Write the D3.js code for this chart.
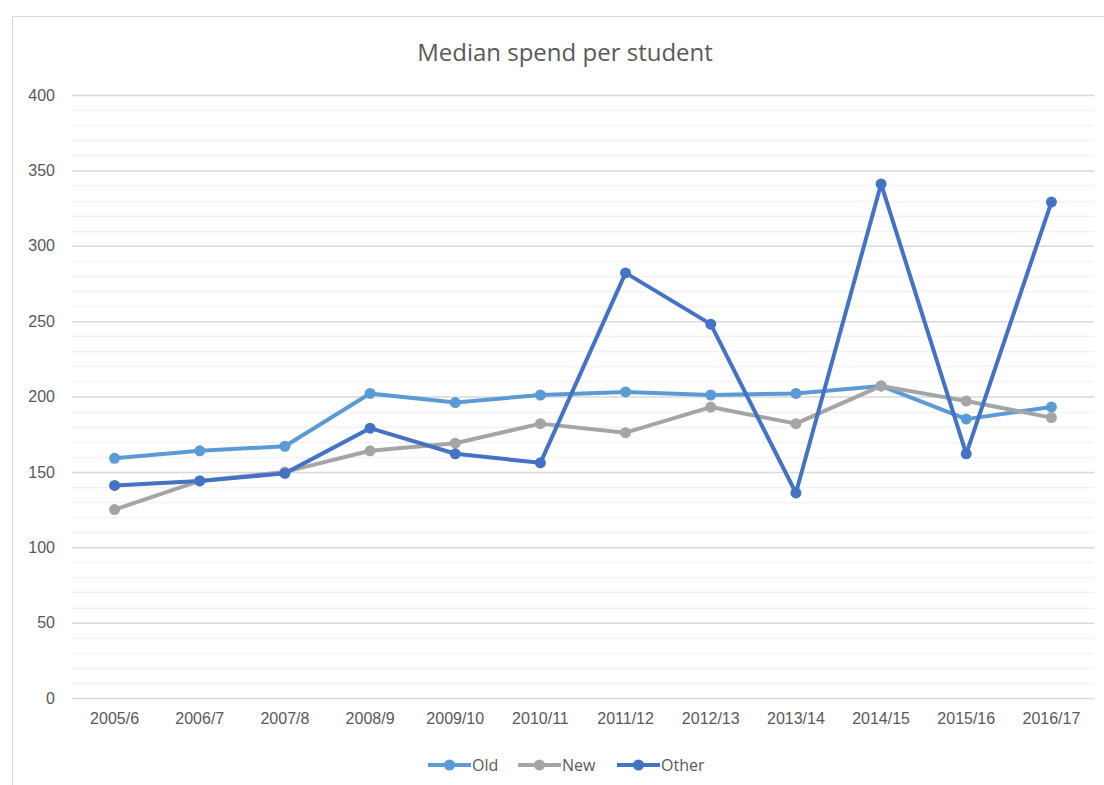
<!DOCTYPE html>
<html lang="en-gb">
<meta charset="utf-8">

<head>
    <style>
        body {
            margin: 0;
            background: #fff;
            font-family: "Open Sans", "Liberation Sans", sans-serif;
        }
    </style>
    <script src="https://d3js.org/d3.v7.min.js"></script>
</head>

<body>
</body>
<script>
    // data
    var years = ["2005/6", "2006/7", "2007/8", "2008/9", "2009/10", "2010/11",
        "2011/12", "2012/13", "2013/14", "2014/15", "2015/16", "2016/17"];
    var oldVals = [159, 164, 167, 202, 196, 201, 203, 201, 202, 207, 185, 193];
    var newVals = [125, 144, 150, 164, 169, 182, 176, 193, 182, 207, 197, 186];
    var otherVals = [141, 144, 149, 179, 162, 156, 282, 248, 136, 341, 162, 329];
    var seriesNames = ["Old", "New", "Other"];
    var seriesColors = ["#5b9bd5", "#a5a5a5", "#4472c4"];
    var yTicks = [0, 50, 100, 150, 200, 250, 300, 350, 400];

    var width = 1104, height = 785;
    var plot = { left: 72, right: 1094, top: 95, bottom: 698 };

    var svg = d3.select("body").append("svg")
        .attr("width", width)
        .attr("height", height);

    // chart frame
    svg.append("rect")
        .attr("x", 12.5).attr("y", 16.5)
        .attr("width", 1200).attr("height", 900)
        .attr("fill", "#fff")
        .attr("stroke", "#d9d9d9");

    var x = d3.scaleBand().domain(years).range([plot.left, plot.right]);
    var y = d3.scaleLinear().domain([0, 400]).range([plot.bottom, plot.top]);

    // minor gridlines
    svg.append("g").selectAll("line")
        .data(d3.range(0, 401, 10).filter(function (d) { return d % 50 != 0; }))
        .enter().append("line")
        .attr("x1", plot.left).attr("x2", plot.right)
        .attr("y1", function (d) { return Math.round(y(d)) + 0.5; })
        .attr("y2", function (d) { return Math.round(y(d)) + 0.5; })
        .attr("stroke", "#f2f2f2")
        .attr("stroke-width", 1.5);

    // major gridlines + y labels
    var yAxis = d3.axisLeft(y).tickValues(yTicks)
        .tickSize(-(plot.right - plot.left)).tickPadding(17);
    var gy = svg.append("g")
        .attr("transform", "translate(" + plot.left + ",0)")
        .call(yAxis);
    gy.select(".domain").remove();
    gy.selectAll("line").attr("stroke", "#d9d9d9").attr("stroke-width", 1.5);
    gy.selectAll("text")
        .attr("fill", "#595959")
        .style("font-size", "16px");

    // x labels
    var xAxis = d3.axisBottom(x).tickSize(0).tickPadding(15);
    var gx = svg.append("g")
        .attr("transform", "translate(0," + plot.bottom + ")")
        .call(xAxis);
    gx.select(".domain").remove();
    gx.selectAll("text")
        .attr("fill", "#595959")
        .style("font-size", "16px");

    // title
    svg.append("text")
        .attr("x", (plot.left + plot.right) / 2 - 18)
        .attr("y", 61)
        .attr("text-anchor", "middle")
        .attr("fill", "#595959")
        .style("font-size", "24px")
        .text("Median spend per student");

    var line = d3.line()
        .x(function (d, i) { return x(years[i]) + x.bandwidth() / 2; })
        .y(function (d) { return y(d); });

    var allSeries = [oldVals, newVals, otherVals];
    allSeries.forEach(function (vals, s) {
        var g = svg.append("g");
        g.append("path")
            .datum(vals)
            .attr("d", line)
            .attr("fill", "none")
            .attr("stroke", seriesColors[s])
            .attr("stroke-width", 4)
            .attr("stroke-linejoin", "round");
        g.selectAll("circle")
            .data(vals)
            .enter().append("circle")
            .attr("cx", function (d, i) { return x(years[i]) + x.bandwidth() / 2; })
            .attr("cy", function (d) { return y(d); })
            .attr("r", 5.5)
            .attr("fill", seriesColors[s]);
    });

    // legend
    var legendX = [428, 518, 617];
    var legend = svg.append("g");
    seriesNames.forEach(function (name, i) {
        var lx = legendX[i];
        legend.append("line")
            .attr("x1", lx).attr("x2", lx + 43)
            .attr("y1", 765).attr("y2", 765)
            .attr("stroke", seriesColors[i])
            .attr("stroke-width", 4);
        legend.append("circle")
            .attr("cx", lx + 21.5).attr("cy", 765).attr("r", 5.5)
            .attr("fill", seriesColors[i]);
        legend.append("text")
            .attr("x", lx + 44).attr("y", 771)
            .attr("fill", "#595959")
            .style("font-size", "16px")
            .text(name);
    });
</script>

</html>
